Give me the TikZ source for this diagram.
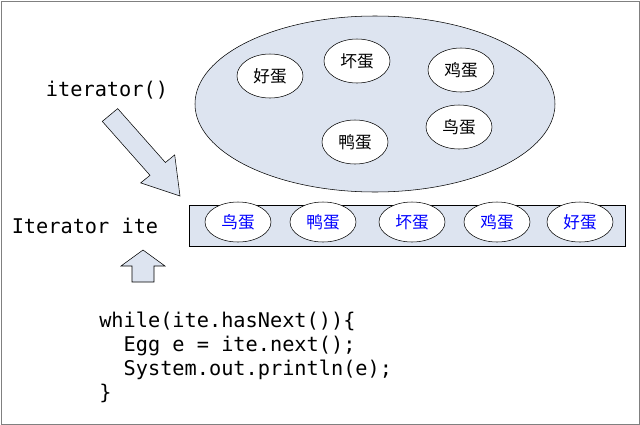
\documentclass[tikz,border=0pt]{standalone}
\usepackage{fontspec}
\setmonofont{DejaVu Sans Mono}
\newfontfamily\cjk{Noto Sans CJK SC}
\usetikzlibrary{shapes.geometric}
\definecolor{bluefill}{HTML}{DDE4F0}
\begin{document}
\begin{tikzpicture}[x=0.75pt,y=-0.75pt,
  egg/.style={draw,fill=white,ellipse,minimum width=66*0.75pt,minimum height=44*0.75pt,inner sep=0pt,font=\cjk\fontsize{12.5}{14}\selectfont},
  beg/.style={egg,minimum height=40*0.75pt,text=blue},
  mono/.style={font=\ttfamily\fontsize{15.2}{18}\selectfont},
  barrow/.style={draw,fill=bluefill,line join=miter}]
\useasboundingbox (0,0) rectangle (640,425);
\draw[gray] (1,1) rectangle (639,424);
\node[draw,fill=bluefill,ellipse,minimum width=360*0.75pt,minimum height=176*0.75pt] (set) at (375,104) {};
\node[egg] (a1) at (270,76) {好蛋};
\node[egg] (a2) at (357,61) {坏蛋};
\node[egg] (a3) at (461,70) {鸡蛋};
\node[egg] (a4) at (355,142) {鸭蛋};
\node[egg] (a5) at (459,127) {鸟蛋};
\node[draw,fill=bluefill,minimum width=436*0.75pt,minimum height=41*0.75pt,inner sep=0pt] (bar) at (407,225.5) {};
\node[beg] (b1) at (238,222) {鸟蛋};
\node[beg] (b2) at (323,222) {鸭蛋};
\node[beg] (b3) at (412,222) {坏蛋};
\node[beg] (b4) at (497,222) {鸡蛋};
\node[beg] (b5) at (580,222) {好蛋};
\node[mono] (it) at (107,90) {iterator()};
\node[mono] (ite) at (85,226) {Iterator ite};
\draw[barrow] (117.7,108.6) -- (165.4,162.5) -- (174.7,154.9) -- (180,196) -- (140.7,182.9) -- (150.0,175.3) -- (102.3,121.4) -- cycle;
\draw[barrow] (132,282) -- (132,266) -- (121,266) -- (143,250) -- (165,266) -- (154,266) -- (154,282) -- cycle;
\node[mono,anchor=north west,align=left,inner sep=0pt] (code) at (99,312) {while(ite.hasNext())\{\\
\ \ Egg e = ite.next();\\
\ \ System.out.println(e);\\
\}};
\end{tikzpicture}
\end{document}
